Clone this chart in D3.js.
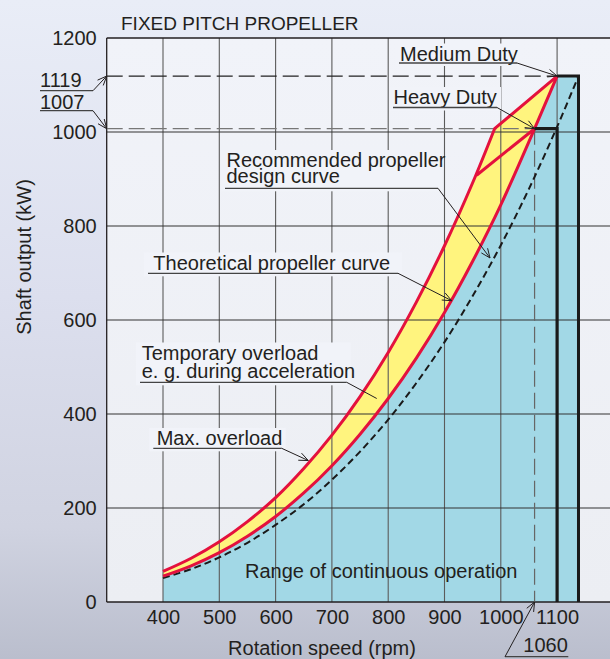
<!DOCTYPE html>
<html><head><meta charset="utf-8">
<script src="https://cdn.jsdelivr.net/npm/d3@7"></script>
<style>body{margin:0;padding:0;overflow:hidden}svg{display:block}text{font-family:"Liberation Sans",Arial,sans-serif;fill:#231f20}</style>
</head><body><svg id="c" width="610" height="659"></svg>
<script>
// ---- data ----
const rpmTicks = [400, 500, 600, 700, 800, 900, 1000, 1100];
const kwTicks = [0, 200, 400, 600, 800, 1000, 1200];
// Theoretical propeller curve (lower red)
const theoRpm = [400, 450, 500, 550, 600, 650, 700, 750, 800, 850, 900, 950, 1000, 1060];
const theoKw  = [55, 77, 105, 140, 182, 232, 290, 357, 433, 519, 616, 725, 845, 1007];
// Max. overload (upper red)
const maxRpm = [400, 450, 500, 550, 600, 650, 700, 750, 800, 850, 900, 950, 989];
const maxKw  = [65, 93, 128, 171, 222, 284, 355, 437, 531, 638, 758, 892, 1007];
// Recommended propeller design curve (dashed)
const recRpm = [400, 450, 500, 550, 600, 650, 700, 750, 800, 850, 900, 950, 1000, 1050, 1100, 1138];
const recKw  = [51, 70, 95, 126, 164, 208, 260, 320, 388, 466, 553, 651, 759, 879, 1011, 1119];
const mediumDuty = [1100, 1119];
const heavyDuty = [1060, 1007];
const tempStart = [957, 908];
const mediumLimitRpm = 1138;

// ---- layout ----
const svg = d3.select("#c");
const x = d3.scaleLinear().domain([300, 1200]).range([106.7, 613.4]);
const y = d3.scaleLinear().domain([0, 1200]).range([602, 38]);
const X0 = x(300), Y0 = y(0), YT = y(1200);
const plotBg = "#f1f3f9";

const defs = svg.append("defs");
const g1 = defs.append("linearGradient").attr("id","bg").attr("x1",0).attr("y1",0).attr("x2",0).attr("y2",1);
g1.append("stop").attr("offset","0%").attr("stop-color","#e9edf7");
g1.append("stop").attr("offset","45%").attr("stop-color","#dcdfee");
g1.append("stop").attr("offset","80%").attr("stop-color","#d0d3e1");
g1.append("stop").attr("offset","100%").attr("stop-color","#babecd");
svg.append("rect").attr("width",610).attr("height",659).attr("fill","url(#bg)");
const g2 = defs.append("linearGradient").attr("id","pbg").attr("x1",0).attr("y1",0).attr("x2",0).attr("y2",1);
g2.append("stop").attr("offset","0%").attr("stop-color","#f1f3f9");
g2.append("stop").attr("offset","100%").attr("stop-color","#eceef3");
svg.append("rect").attr("x",X0).attr("y",YT).attr("width",610-X0).attr("height",Y0-YT).attr("fill","url(#pbg)");

const pts = (r, k) => r.map((v, i) => [x(v), y(k[i])]);
const smooth = d3.line().curve(d3.curveCatmullRom.alpha(0.5));
const straight = d3.line();
const theoP = pts(theoRpm, theoKw), maxP = pts(maxRpm, maxKw), recP = pts(recRpm, recKw);
const medP = [x(mediumDuty[0]), y(mediumDuty[1])];
const heavyP = [x(heavyDuty[0]), y(heavyDuty[1])];

// blue region
const bluePath = smooth(theoP) + straight([medP, [x(mediumLimitRpm), y(mediumDuty[1])], [x(mediumLimitRpm), Y0], [x(400), Y0]]).replace(/^M/, "L") + "Z";
svg.append("path").attr("d", bluePath).attr("fill", "#a2d8e6");
// yellow region
const yellowPath = smooth(maxP) + straight([medP, heavyP]).replace(/^M/, "L") + smooth(theoP.slice().reverse()).replace(/^M/, "L") + "Z";
svg.append("path").attr("d", yellowPath).attr("fill", "#fff47e");

// grid
const grid = svg.append("g");
grid.selectAll("line.v").data(rpmTicks).join("line")
  .attr("x1", d => x(d)).attr("x2", d => x(d)).attr("y1", YT).attr("y2", Y0)
  .attr("stroke", "#5b5b5b").attr("stroke-width", 1.1);
grid.selectAll("line.h").data(kwTicks.filter(d => d > 0 && d < 1200)).join("line")
  .attr("x1", X0).attr("x2", 610).attr("y1", d => y(d)).attr("y2", d => y(d))
  .attr("stroke", "#333").attr("stroke-width", 1.1);
// border
svg.append("line").attr("x1", X0).attr("x2", 610).attr("y1", YT).attr("y2", YT).attr("stroke", "#231f20").attr("stroke-width", 1.3);
svg.append("line").attr("x1", X0).attr("x2", X0).attr("y1", YT).attr("y2", Y0).attr("stroke", "#231f20").attr("stroke-width", 1.3);
svg.append("line").attr("x1", X0).attr("x2", 610).attr("y1", Y0).attr("y2", Y0).attr("stroke", "#231f20").attr("stroke-width", 1.3);

// reference dashed lines
svg.append("line").attr("x1", X0).attr("x2", medP[0]).attr("y1", medP[1]).attr("y2", medP[1])
  .attr("stroke", "#222").attr("stroke-width", 1.2).attr("stroke-dasharray", "16,6");
svg.append("line").attr("x1", X0).attr("x2", heavyP[0]).attr("y1", heavyP[1]).attr("y2", heavyP[1])
  .attr("stroke", "#777").attr("stroke-width", 1.2).attr("stroke-dasharray", "16,6");
svg.append("line").attr("x1", heavyP[0]).attr("x2", heavyP[0]).attr("y1", heavyP[1]).attr("y2", Y0)
  .attr("stroke", "#666").attr("stroke-width", 1.2).attr("stroke-dasharray", "16,6");

// recommended dashed curve
svg.append("path").attr("d", smooth(recP)).attr("fill", "none").attr("stroke", "#1a1a1a")
  .attr("stroke-width", 2).attr("stroke-dasharray", "7,4");

// red lines
const red = "#e4113d";
svg.append("path").attr("d", smooth(maxP) + "L" + medP.join(",")).attr("fill", "none").attr("stroke", red).attr("stroke-width", 3);
svg.append("path").attr("d", smooth(theoP) + "L" + medP.join(",")).attr("fill", "none").attr("stroke", red).attr("stroke-width", 3);
svg.append("path").attr("d", straight([[x(tempStart[0]), y(tempStart[1])], heavyP])).attr("fill", "none").attr("stroke", red).attr("stroke-width", 3);

// duty boxes
svg.append("path").attr("d", straight([heavyP, [x(mediumDuty[0]), heavyP[1]], [x(mediumDuty[0]), Y0]]))
  .attr("fill", "none").attr("stroke", "#1a1a1a").attr("stroke-width", 3.2);
svg.append("path").attr("d", straight([medP, [x(mediumLimitRpm), medP[1]], [x(mediumLimitRpm), Y0]]))
  .attr("fill", "none").attr("stroke", "#1a1a1a").attr("stroke-width", 3);

// axes
const fs = 20;
const ya = svg.append("g").attr("transform", `translate(${X0},0)`)
  .call(d3.axisLeft(y).tickValues(kwTicks).tickFormat(d3.format("d")).tickSize(0).tickPadding(10));
ya.select(".domain").remove();
ya.selectAll("text").attr("font-size", fs).attr("font-family", "Liberation Sans").attr("fill", "#231f20");
const xa = svg.append("g").attr("transform", `translate(0,${Y0})`)
  .call(d3.axisBottom(x).tickValues(rpmTicks).tickFormat(d3.format("d")).tickSize(0).tickPadding(8));
xa.select(".domain").remove();
xa.selectAll("text").attr("font-size", fs).attr("font-family", "Liberation Sans").attr("fill", "#231f20");

svg.append("text").attr("x", 121).attr("y", 30).attr("font-size", 19).text("FIXED PITCH PROPELLER");
svg.append("text").attr("transform", "translate(31,257) rotate(-90)").attr("text-anchor", "middle").attr("font-size", fs).text("Shaft output (kW)");
svg.append("text").attr("x", 322).attr("y", 655).attr("text-anchor", "middle").attr("font-size", fs).text("Rotation speed (rpm)");

// labels with leaders
const labels = [
  {lines: ["Medium Duty"], tx: 400, by: [60.5], ul: [399, 517, 63], tip: mediumDuty, arrow: true, box: true},
  {lines: ["Heavy Duty"], tx: 393.5, by: [104], ul: [393, 497, 107.5], tip: heavyDuty, arrow: true, box: true},
  {lines: ["Recommended propeller", "design curve"], tx: 226.5, by: [167, 182.5], ul: [225, 438, 188.3], tip: [980.8, 732], arrow: true, box: true},
  {lines: ["Theoretical propeller curve"], tx: 153.3, by: [269.5], ul: [148, 398, 273.3], tip: [912.8, 641], arrow: true, box: true},
  {lines: ["Temporary overload", "e. g. during acceleration"], tx: 141.7, by: [359.5, 377.7], ul: [140, 346.7, 382.3], tip: [779.6, 433], arrow: false, box: true},
  {lines: ["Max. overload"], tx: 156.7, by: [445], ul: [153.3, 281.7, 448.3], tip: [658, 301], arrow: true, box: true},
  {lines: ["1119"], tx: 40, by: [86.7], ul: [40, 93, 90.7], tip: [300, 1119], arrow: true, box: false},
  {lines: ["1007"], tx: 40, by: [108.5], ul: [40, 93, 110.7], tip: [300, 1007], arrow: true, box: false},
  {lines: ["1060"], tx: 523.3, by: [651.7], ul: [568.3, 505, 656.7], tip: [1060, 0], arrow: true, box: false}
];
const lg = svg.append("g");
labels.forEach(L => {
  if (L.box) {
    const top = L.by[0] - 17, bot = L.ul[2] + 3;
    lg.append("rect").attr("x", Math.min(L.tx, L.ul[0]) - 4).attr("y", top)
      .attr("width", Math.max(L.ul[0], L.ul[1]) - Math.min(L.tx, L.ul[0]) + 8).attr("height", bot - top).attr("fill", plotBg);
  }
});
labels.forEach(L => {
  const t = lg.append("text").attr("x", L.tx).attr("y", L.by[0]).attr("font-size", fs);
  L.lines.forEach((s, i) => t.append("tspan").attr("x", L.tx).attr("y", L.by[i]).text(s));
  lg.append("line").attr("x1", L.ul[0]).attr("x2", L.ul[1]).attr("y1", L.ul[2]).attr("y2", L.ul[2]).attr("stroke", "#444").attr("stroke-width", 1.3);
  const sx = L.ul[1], sy = L.ul[2], ex = x(L.tip[0]), ey = y(L.tip[1]);
  lg.append("line").attr("x1", sx).attr("y1", sy).attr("x2", ex).attr("y2", ey).attr("stroke", "#231f20").attr("stroke-width", 1);
  if (L.arrow) {
    const a = Math.atan2(ey - sy, ex - sx), len = 10, sp = 0.4;
    const p = [[ex - len * Math.cos(a - sp), ey - len * Math.sin(a - sp)], [ex, ey], [ex - len * Math.cos(a + sp), ey - len * Math.sin(a + sp)]];
    lg.append("path").attr("d", straight(p)).attr("fill", "none").attr("stroke", "#231f20").attr("stroke-width", 1);
  }
});
svg.append("text").attr("x", 245).attr("y", 578.3).attr("font-size", fs).text("Range of continuous operation");
</script></body></html>
